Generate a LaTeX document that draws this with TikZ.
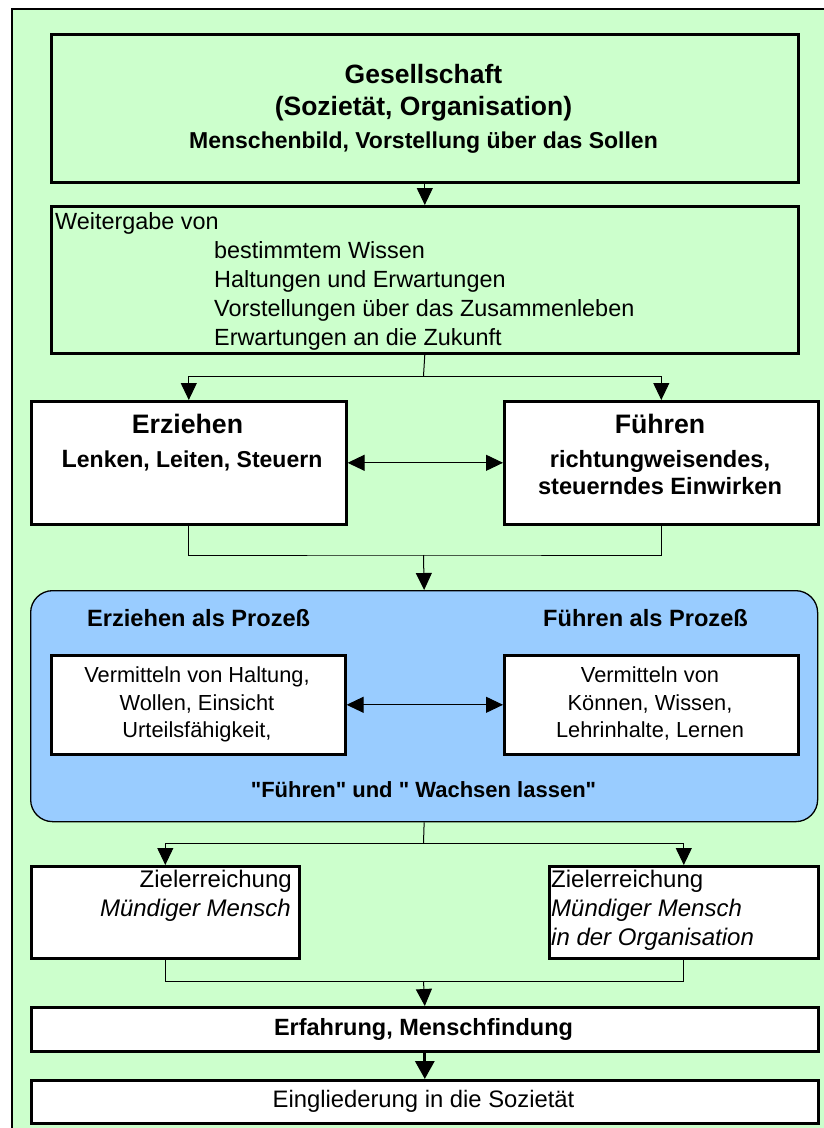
\documentclass[tikz,border=0pt]{standalone}
\usepackage{fontspec}
\setmainfont{Liberation Sans}[Ligatures=TeXOff]
\usetikzlibrary{arrows.meta}
\definecolor{bggreen}{HTML}{CCFFCC}
\definecolor{procblue}{HTML}{99CCFF}
\begin{document}
\begin{tikzpicture}[x=1pt,y=-1pt,
  box/.style={draw, line width=2.6pt, inner sep=0pt, anchor=north west},
  gbox/.style={box, fill=bggreen},
  wbox/.style={box, fill=white},
  txt/.style={inner sep=0pt, font=\fontsize{#1}{#1}\selectfont},
  btxt/.style={inner sep=0pt, font=\fontsize{#1}{#1}\selectfont\bfseries},
  itxt/.style={inner sep=0pt, font=\fontsize{#1}{#1}\selectfont\itshape},
  plain/.style={draw, line width=1pt},
  conn/.style={draw, line width=1pt, -{Triangle[width=16pt,length=17pt]}},
  dconn/.style={draw, line width=1pt, {Triangle[width=16pt,length=17pt]}-{Triangle[width=16pt,length=17pt]}},
  bigconn/.style={draw, line width=3.2pt, -{Triangle[width=19pt,length=18pt]}}
]
\useasboundingbox (0,0) rectangle (824,1128);
\clip (0,0) rectangle (824,1128);
\fill[white] (0,0) rectangle (824,1128);
\draw[fill=bggreen, line width=1.2pt] (12,9) rectangle (845,1145);

% top box
\node[gbox, minimum width=747pt, minimum height=148pt] (top) at (50,33) {};
\node[btxt=26.5, anchor=base] (g1) at (423.5,83) {Gesellschaft};
\node[btxt=26.5, anchor=base] (g2) at (423.5,115) {(Sozietät, Organisation)};
\node[btxt=23, anchor=base] (g3) at (423.5,148) {Menschenbild, Vorstellung über das Sollen};

% Weitergabe box
\node[gbox, minimum width=747pt, minimum height=147pt] (weit) at (50,205) {};
\node[txt=23.4, anchor=base west] (w0) at (55,229) {Weitergabe von};
\node[txt=23.4, anchor=base west] (w1) at (214,258) {bestimmtem Wissen};
\node[txt=23.4, anchor=base west] (w2) at (214,287) {Haltungen und Erwartungen};
\node[txt=23.4, anchor=base west] (w3) at (214,316) {Vorstellungen über das Zusammenleben};
\node[txt=23.4, anchor=base west] (w4) at (214,345) {Erwartungen an die Zukunft};

% Erziehen / Fuehren
\node[wbox, minimum width=315pt, minimum height=123pt] (erz) at (30,400) {};
\node[btxt=26.7, anchor=base] (e1) at (187.5,433) {Erziehen};
\node[btxt=23, anchor=base] (e2) at (192,467) {{\fontsize{25}{25}\selectfont L}enken, Leiten, Steuern};
\node[wbox, minimum width=314pt, minimum height=123pt] (fuh) at (503,400) {};
\node[btxt=26.7, anchor=base] (f1) at (660,433) {Führen};
\node[btxt=23.6, anchor=base] (f2) at (660,467) {richtungweisendes,};
\node[btxt=23.6, anchor=base] (f3) at (660,494) {steuerndes Einwirken};

% process box
\node[draw, fill=procblue, line width=1.3pt, rounded corners=22pt, inner sep=0pt, anchor=north west,
      minimum width=787pt, minimum height=231pt] (proc) at (30,590) {};
\node[btxt=23.6, anchor=base west] (p1) at (87,626) {Erziehen als Prozeß};
\node[btxt=23.6, anchor=base east] (p2) at (748,626) {Führen als Prozeß};
\node[wbox, minimum width=294pt, minimum height=99pt] (in1) at (50,654) {};
\node[txt=21.8, anchor=base] (i11) at (197,682) {Vermitteln von Haltung,};
\node[txt=21.8, anchor=base] (i12) at (197,710) {Wollen, Einsicht};
\node[txt=21.8, anchor=base] (i13) at (197,737) {Urteilsfähigkeit,};
\node[wbox, minimum width=294pt, minimum height=99pt] (in2) at (503,654) {};
\node[txt=21.8, anchor=base] (i21) at (650,682) {Vermitteln von};
\node[txt=21.8, anchor=base] (i22) at (650,710) {Können, Wissen,};
\node[txt=21.8, anchor=base] (i23) at (650,737) {Lehrinhalte, Lernen};
\node[btxt=22, anchor=base] (p3) at (423.5,797) {"Führen" und " Wachsen lassen"};

% Zielerreichung
\node[wbox, minimum width=268pt, minimum height=92pt] (z1) at (30,865) {};
\node[txt=24, anchor=base east] (z11) at (292,887) {Zielerreichung};
\node[itxt=24, anchor=base east] (z12) at (291,916) {Mündiger Mensch};
\node[wbox, minimum width=269pt, minimum height=92pt] (z2) at (548,865) {};
\node[txt=24, anchor=base west] (z21) at (551,887) {Zielerreichung};
\node[itxt=24, anchor=base west] (z22) at (551,916) {Mündiger Mensch};
\node[itxt=24, anchor=base west] (z23) at (551,945) {in der Organisation};

% bottom boxes
\node[wbox, minimum width=787pt, minimum height=44pt] (erf) at (30,1006) {};
\node[btxt=23.5, anchor=base] (erfT) at (423.5,1035) {Erfahrung, Menschfindung};
\node[wbox, minimum width=787pt, minimum height=43pt] (ein) at (30,1079) {};
\node[txt=23.8, anchor=base] (einT) at (423.5,1107) {Eingliederung in die Sozietät};

% connectors
\coordinate (s1) at (423.5,376);
\coordinate (s2) at (423.5,555);
\coordinate (s3) at (423.5,843);
\coordinate (s4) at (423.5,981);
\path[conn] (top.south) -- (weit.north);
\path[plain] (weit.south) -- (s1);
\path[conn] (s1) -| (erz.north);
\path[conn] (s1) -| (fuh.north);
\path[dconn] (erz.east) -- (fuh.west);
\path[plain] (erz.south) |- (s2) -| (fuh.south);
\path[conn] (s2) -- (proc.north);
\path[dconn] (in1.east) -- (in2.west);
\path[plain] (proc.south) -- (s3);
\path[conn] (s3) -| (z1.north);
\path[conn] (s3) -| (z2.north);
\path[plain] (z1.south) |- (s4) -| (z2.south);
\path[conn] (s4) -- (erf.north);
\path[bigconn] (erf.south) -- (ein.north);
\end{tikzpicture}
\end{document}
